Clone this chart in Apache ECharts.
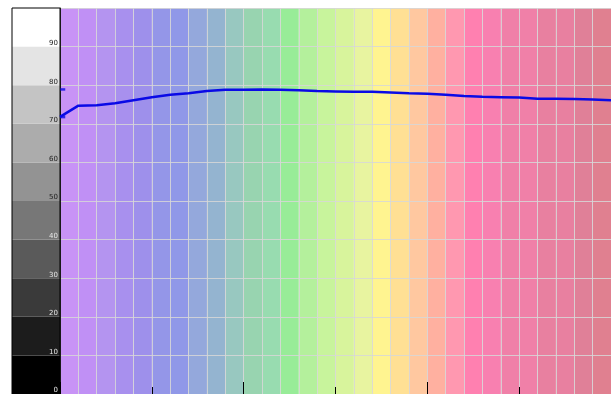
<!DOCTYPE html>
<html>
<head>
<meta charset="utf-8">
<script src="https://cdn.jsdelivr.net/npm/echarts@6/dist/echarts.min.js"></script>
<style>
  html, body { margin: 0; padding: 0; background: #ffffff; }
  #chart { width: 611px; height: 394px; }
</style>
</head>
<body>
<div id="chart"></div>
<script>
// Reading positions along the x axis (one per column boundary)
const xPositions = [0,1,2,3,4,5,6,7,8,9,10,11,12,13,14,15,16,17,18,19,20,21,22,23,24,25,26,27,28,29,30];
// Measured level at each position
const levelValues = [71.8,74.7,74.8,75.3,76.1,76.9,77.5,77.9,78.5,78.8,78.8,78.9,78.8,78.7,78.5,78.4,78.3,78.3,78.1,77.9,77.8,77.5,77.2,77.0,76.9,76.8,76.5,76.5,76.4,76.3,76.1];
// Isolated reading near the start
const singleReading = [[0.15, 78.9]];
// Background colour for each unit-wide column
const columnColors = ['#c893f6','#c090f5','#b494f0','#a890ee','#9e90eb','#9496e8','#9098e8','#94a8dc','#94b4d0','#98c8c0',
  '#98d4b0','#98dcb0','#98ec98','#b4f09c','#c8f49c','#d8f49c','#e8f4a0','#fff490','#ffe094','#ffc8a0',
  '#ffb0a0','#ff98b0','#ff80b0','#f880b0','#f080a8','#f080a8','#e880a0','#e880a0','#e08098','#e08090'];
// Grey scale bands of the left legend strip, from 0-10 up to 90-100
const bandColors = ['#000000','#1c1c1c','#3a3a3a','#5a5a5a','#777777','#939393','#acacac','#c4c4c4','#e4e4e4','#ffffff'];

const columnAreas = columnColors.map((c, i) => [
  { xAxis: i, itemStyle: { color: c } },
  { xAxis: i + 1 }
]);
const bandAreas = bandColors.map((c, i) => [
  { yAxis: i * 10, itemStyle: { color: c } },
  { yAxis: i * 10 + 10 }
]);

const gridColor = 'rgba(215,215,215,0.85)';

const chart = echarts.init(document.getElementById('chart'), null, { renderer: 'canvas' });
chart.setOption({
  animation: false,
  backgroundColor: '#ffffff',
  grid: [
    { left: 60, top: 8, width: 551, height: 390, z: 0 },
    { left: 12, top: 8, width: 48, height: 390, show: true, borderColor: '#000', borderWidth: 1, backgroundColor: 'transparent', z: 4 }
  ],
  xAxis: [
    { gridIndex: 0, type: 'value', min: 0, max: 30, interval: 1, z: 3,
      axisLine: { show: false }, axisTick: { show: false }, axisLabel: { show: false },
      splitLine: { show: true, lineStyle: { color: gridColor, width: 1 } } },
    { gridIndex: 0, type: 'value', min: 0, max: 30, interval: 10, position: 'bottom', z: 6,
      axisLine: { show: false },
      axisTick: { show: true, inside: true, length: 12, lineStyle: { color: '#000', width: 1 } },
      minorTick: { show: true, splitNumber: 2, length: 7, lineStyle: { color: '#000', width: 1 } },
      axisLabel: { show: false }, splitLine: { show: false } },
    { gridIndex: 1, type: 'value', min: 0, max: 1, show: false }
  ],
  yAxis: [
    { gridIndex: 0, type: 'value', min: 0, max: 100, interval: 10, z: 3,
      axisLine: { show: true, lineStyle: { color: '#333', width: 1 } },
      axisTick: { show: false },
      axisLabel: {
        show: true, margin: 2, fontSize: 7, lineHeight: 7, fontFamily: 'DejaVu Sans',
        verticalAlign: 'bottom',
        formatter: (v) => (v >= 100 ? '' : String(v)),
        color: (v) => (Number(v) <= 40 ? '#e6e6e6' : '#222222')
      },
      splitLine: { show: true, lineStyle: { color: gridColor, width: 1 } } },
    { gridIndex: 1, type: 'value', min: 0, max: 100, show: false }
  ],
  series: [
    { type: 'line', xAxisIndex: 2, yAxisIndex: 1, data: [], silent: true, z: 1,
      markArea: { silent: true, data: bandAreas } },
    { type: 'line', xAxisIndex: 0, yAxisIndex: 0, data: [], silent: true, z: 1,
      markArea: { silent: true, data: columnAreas } },
    { type: 'line', xAxisIndex: 0, yAxisIndex: 0, z: 5,
      data: xPositions.map((x, i) => [x, levelValues[i]]),
      showSymbol: false, symbol: 'none',
      lineStyle: { color: '#0a0ae6', width: 2.5 } },
    { type: 'scatter', xAxisIndex: 0, yAxisIndex: 0, z: 6,
      data: singleReading, symbol: 'rect', symbolSize: [5, 2.5],
      itemStyle: { color: '#0a0ae6' } },
    { type: 'scatter', xAxisIndex: 0, yAxisIndex: 0, z: 6,
      data: [[0.15, levelValues[0]]], symbol: 'rect', symbolSize: [5, 3],
      itemStyle: { color: '#0a0ae6' } }
  ]
});
</script>
</body>
</html>
